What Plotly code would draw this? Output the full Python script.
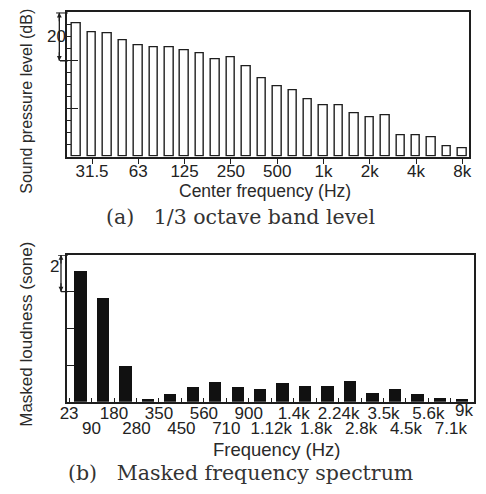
import plotly.graph_objects as go

# ---------------- data ----------------
top_bands = ["25", "31.5", "40", "50", "63", "80", "100", "125", "160", "200", "250", "315",
             "400", "500", "630", "800", "1k", "1.25k", "1.6k", "2k", "2.5k", "3.15k",
             "4k", "5k", "6.3k", "8k"]
top_levels = [55.8, 51.7, 51.4, 48.6, 46.3, 45.6, 45.6, 44.2, 43.1, 40.7, 41.3, 37.5,
              32.7, 29.2, 27.8, 24.0, 21.3, 21.3, 18.1, 16.4, 17.4, 8.8,
              8.8, 8.1, 4.5, 3.5]
top_tick_labels = ["31.5", "63", "125", "250", "500", "1k", "2k", "4k", "8k"]

bottom_edges = ["23", "90", "180", "280", "350", "450", "560", "710", "900", "1.12k",
                "1.4k", "1.8k", "2.24k", "2.8k", "3.5k", "4.5k", "5.6k", "7.1k", "9k"]
bottom_loudness = [7.12, 5.63, 1.96, 0.16, 0.40, 0.78, 1.06, 0.78, 0.69, 1.00,
                   0.86, 0.86, 1.13, 0.49, 0.71, 0.40, 0.19, 0.13]

top_scale = (40, 60)      # 20 dB scale bar
bottom_scale = (6, 8)     # 2 sone scale bar

# ---------------- styling ----------------
W, H = 486, 494
OFF = 8                    # default page body margin
FW, FH = W - 2 * OFF, H - 2 * OFF
INK = "#1e1e1e"
SANS = "Liberation Sans, Arial, sans-serif"
SERIF = "DejaVu Serif, Liberation Serif, serif"

def px(x):
    return (x - OFF) / FW

def py(y):
    return 1 - (y - OFF) / FH

top_idx = list(range(len(top_bands)))
top_tickvals = [top_bands.index(t) for t in top_tick_labels]
bot_centers = [i + 0.5 for i in range(len(bottom_loudness))]
edge_idx = list(range(len(bottom_edges)))
last = edge_idx[-1]
odd_ticks = [i for i in edge_idx if i % 2 == 1]

fig = go.Figure()
fig.add_trace(go.Bar(x=top_idx, y=top_levels, width=0.55, xaxis="x", yaxis="y",
                     marker=dict(color="white", line=dict(color=INK, width=1.4)),
                     showlegend=False, hoverinfo="skip"))
fig.add_trace(go.Bar(x=bot_centers, y=bottom_loudness, width=0.55, xaxis="x2", yaxis="y2",
                     marker=dict(color="#111111", line=dict(width=0)),
                     showlegend=False, hoverinfo="skip"))
# invisible helper so that the second label row axis is drawn
fig.add_trace(go.Scatter(x=odd_ticks, y=[0] * len(odd_ticks), xaxis="x3", yaxis="y2",
                         mode="markers", marker=dict(opacity=0, size=1),
                         showlegend=False, hoverinfo="skip"))

axis_common = dict(showline=True, linecolor=INK, linewidth=1.5, mirror=True,
                   showgrid=False, zeroline=False, tickcolor=INK,
                   tickfont=dict(family=SANS, size=17, color="#222"))

fig.update_layout(
    width=FW, height=FH, margin=dict(l=0, r=0, t=0, b=0),
    paper_bgcolor="white", plot_bgcolor="white", bargap=0,
    xaxis=dict(domain=[px(61), px(472)], anchor="y", range=[-0.63, 25.44],
               tickmode="array", tickvals=top_tickvals, ticktext=top_tick_labels,
               ticks="outside", ticklen=6, tickwidth=1.3, ticklabelstandoff=-8,
               **axis_common),
    yaxis=dict(domain=[py(156.7), py(12.3)], anchor="x", range=[0, 60.2],
               tickmode="array", tickvals=[20, 40], ticks="inside", ticklen=11,
               tickwidth=1.3, showticklabels=False,
               minor=dict(tickmode="linear", tick0=0, dtick=5, ticks="inside",
                          ticklen=4, tickcolor=INK, tickwidth=1.2),
               **axis_common),
    xaxis2=dict(domain=[px(61), px(477)], anchor="y2", range=[-0.1, 18.03],
                tickmode="array", tickvals=edge_idx,
                ticktext=[bottom_edges[i] if (i % 2 == 0 and i != last) else ""
                          for i in edge_idx],
                ticks="inside", ticklen=4, tickwidth=1.2, ticklabelstandoff=-5,
                **axis_common),
    xaxis3=dict(overlaying="x2", anchor="y2", range=[-0.1, 18.03], side="bottom",
                tickmode="array", tickvals=odd_ticks,
                ticktext=[bottom_edges[i] for i in odd_ticks],
                ticks="", showline=False, showgrid=False, zeroline=False,
                ticklabelstandoff=14,
                tickfont=dict(family=SANS, size=17, color="#222")),
    yaxis2=dict(domain=[py(401.7), py(255)], anchor="x2", range=[0, 8.0],
                tickmode="array", tickvals=[2, 4, 6], ticks="inside", ticklen=7,
                tickwidth=1.3, showticklabels=False, **axis_common),
)

shapes = []
def seg(x0, x1, y0, y1, yref):
    shapes.append(dict(type="line", xref="paper", yref=yref, x0=px(x0), x1=px(x1),
                       y0=y0, y1=y1, line=dict(color=INK, width=1.3)))
# top scale bar
seg(53.3, 53.3, top_scale[0], top_scale[1], "y")
seg(50, 62, top_scale[1], top_scale[1], "y")
seg(54, 62, top_scale[0], top_scale[0], "y")
# bottom scale bar
seg(55, 55, bottom_scale[0], bottom_scale[1], "y2")
seg(52, 62, bottom_scale[1], bottom_scale[1], "y2")
seg(55, 62, bottom_scale[0], bottom_scale[0], "y2")
fig.update_layout(shapes=shapes)

ann = []
def arrow(x, y, yref, ay):
    ann.append(dict(x=px(x), y=y, xref="paper", yref=yref, text="", showarrow=True,
                    arrowhead=2, arrowsize=0.8, arrowwidth=1.2, arrowcolor=INK,
                    ax=0, ay=ay))
arrow(53.3, top_scale[1], "y", 10)
arrow(53.3, top_scale[0], "y", -10)
arrow(55, bottom_scale[1], "y2", 10)
arrow(55, bottom_scale[0], "y2", -10)

ann.append(dict(x=px(39), y=sum(top_scale) / 2, xref="paper", yref="y", text="20",
                showarrow=False, font=dict(family=SANS, size=17, color="#222")))
ann.append(dict(x=px(42), y=sum(bottom_scale) / 2 + 0.4, xref="paper", yref="y2", text="2",
                showarrow=False, font=dict(family=SANS, size=17, color="#222")))
# last edge label, kept inside the page
ann.append(dict(x=last, y=py(410), xref="x2", yref="paper", text=bottom_edges[last],
                xanchor="right", yanchor="middle", xshift=1, showarrow=False,
                borderpad=0, font=dict(family=SANS, size=17, color="#222")))

def label(text, x, y, size=17, angle=0, family=SANS, color="#2a2a2a"):
    ann.append(dict(x=px(x), y=py(y), xref="paper", yref="paper", text=text,
                    showarrow=False, textangle=angle, xanchor="center", yanchor="middle",
                    font=dict(family=family, size=size, color=color)))

label("Sound pressure level (dB)", 19, 101, size=16, angle=-90)
label("Center frequency (Hz)", 263, 191, size=17.5)
label("Masked loudness (sone)", 19, 334, size=17, angle=-90)
label("Frequency (Hz)", 275, 449, size=18.5)
label("(a)\u00a0\u00a0 1/3 octave band level", 238, 217, size=20.5, family=SERIF, color="#333")
label("(b)\u00a0\u00a0 Masked frequency spectrum", 238.5, 473, size=20.5, family=SERIF, color="#333")

fig.update_layout(annotations=ann)
fig.write_html("out.html")
